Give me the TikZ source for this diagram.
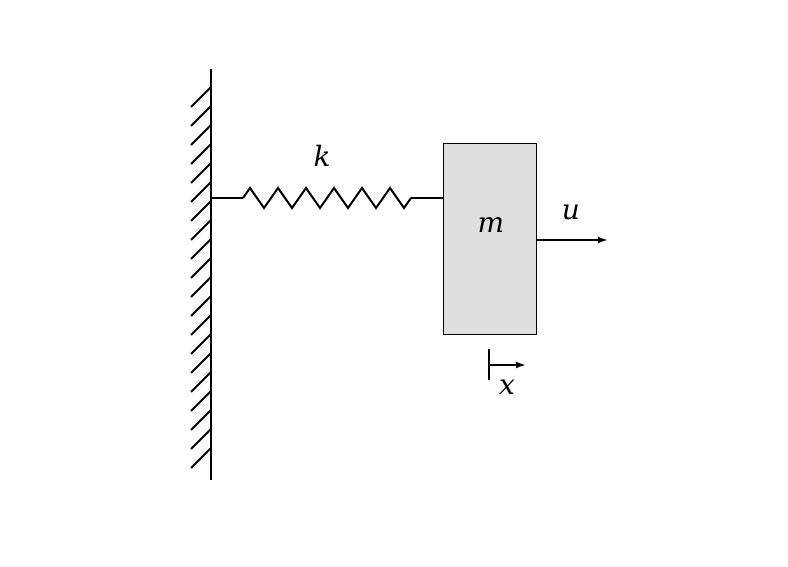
\documentclass[tikz,border=0pt]{standalone}
\usepackage{fontspec}
\newfontfamily\lblfont{DejaVu Serif}
\usetikzlibrary{decorations.pathmorphing,arrows.meta}
\tikzset{
  lbl/.style={font=\lblfont\itshape\fontsize{28}{32}\selectfont},
  hatch/.style={line width=2pt},
}
\begin{document}
\begin{tikzpicture}[x=1pt,y=1pt]
  \useasboundingbox (0,0) rectangle (788,567);
  % wall
  \coordinate (walltop) at (211,498);
  \coordinate (wallbot) at (211,87);
  \draw[line width=2.5pt] (walltop) -- (wallbot);
  \foreach \y in {480,461,...,115}
    \draw[hatch] (191,\y-20) -- (211,\y);
  % block
  \node[draw,fill=gray!25,minimum width=93pt,minimum height=191pt,inner sep=0pt,anchor=north west] (mass) at (443,424) {};
  \node[lbl] (mlabel) at (491,342) {m};
  % spring
  \coordinate (springstart) at (211,369);
  \coordinate (springa) at (243,369);
  \coordinate (springb) at (411,369);
  \coordinate (springend) at (mass.west |- springstart);
  \draw[line width=2pt] (springstart) -- (springa);
  \draw[line width=2pt,decorate,decoration={zigzag,segment length=28pt,amplitude=10pt}] (springa) -- (springb);
  \draw[line width=2pt] (springb) -- (springend);
  \node[lbl] (klabel) at (322,411) {k};
  % input force
  \coordinate (uend) at (608,327);
  \draw[line width=2pt,-{Latex[length=10pt,width=7pt]}] (mass.east |- uend) -- (uend);
  \node[lbl] (ulabel) at (571,355) {u};
  % displacement marker
  \coordinate (xtop) at (489,218);
  \coordinate (xbot) at (489,187);
  \coordinate (xend) at (526,202);
  \draw[line width=2pt] (xtop) -- (xbot);
  \draw[line width=2pt,-{Latex[length=10pt,width=7pt]}] (xtop |- xend) -- (xend);
  \node[lbl] (xlabel) at (507,180) {x};
\end{tikzpicture}
\end{document}
